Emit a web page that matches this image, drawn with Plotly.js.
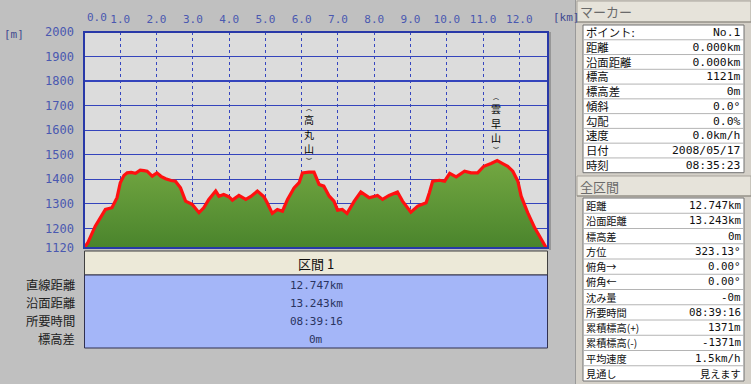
<!DOCTYPE html>
<html><head><meta charset="utf-8">
<script src="https://cdn.plot.ly/plotly-3.0.1.min.js"></script>
<style>html,body{margin:0;padding:0;background:#c0c0c0;}#chart{width:751px;height:384px;}</style>
</head><body><div id="chart"></div>
<script>
// ---- data ----
const distKm = [0.00,0.10,0.31,0.45,0.59,0.77,0.91,1.00,1.10,1.19,1.30,1.42,1.55,1.65,1.74,1.88,2.01,2.12,2.25,2.40,2.52,2.66,2.80,2.98,3.17,3.30,3.44,3.63,3.72,3.85,3.99,4.09,4.27,4.46,4.60,4.78,4.96,5.05,5.19,5.33,5.47,5.61,5.79,5.93,6.02,6.20,6.34,6.48,6.61,6.76,6.89,6.99,7.12,7.25,7.45,7.63,7.86,8.09,8.23,8.41,8.64,8.78,9.01,9.20,9.43,9.52,9.61,9.80,9.94,10.08,10.26,10.49,10.67,10.85,11.02,11.22,11.39,11.54,11.68,11.82,11.96,12.05,12.23,12.42,12.60,12.74];
const elevM  = [1121,1140,1209,1245,1277,1284,1325,1386,1415,1426,1428,1424,1437,1435,1433,1413,1426,1412,1402,1395,1392,1365,1311,1298,1264,1284,1318,1352,1331,1338,1329,1315,1334,1318,1330,1352,1329,1304,1261,1277,1270,1318,1365,1386,1426,1429,1429,1379,1372,1331,1311,1274,1277,1261,1311,1348,1325,1334,1318,1334,1348,1311,1266,1291,1304,1345,1392,1396,1392,1424,1410,1433,1426,1426,1453,1464,1476,1464,1453,1433,1392,1331,1264,1203,1155,1121];
const yTickVals = [1120,1200,1300,1400,1500,1600,1700,1800,1900,2000];
const xTickVals = [0,1,2,3,4,5,6,7,8,9,10,11,12];
const xTickLabels = ['0.0','1.0','2.0','3.0','4.0','5.0','6.0','7.0','8.0','9.0','10.0','11.0','12.0'];
const peakNames = ['高丸山','雲早山'];
const peakKm = [6.2, 11.37];
const sectionTitle = '区間 1';
const sectionLabels = ['直線距離','沿面距離','所要時間','標高差'];
const sectionValues = ['12.747km','13.243km','08:39:16','0m'];
const markerLabels = ['ポイント:','距離','沿面距離','標高','標高差','傾斜','勾配','速度','日付','時刻'];
const markerValues = ['No.1','0.000km','0.000km','1121m','0m','0.0°','0.0%','0.0km/h','2008/05/17','08:35:23'];
const totalLabels = ['距離','沿面距離','標高差','方位','俯角→','俯角←','沈み量','所要時間','累積標高(+)','累積標高(-)','平均速度','見通し'];
const totalValues = ['12.747km','13.243km','0m','323.13°','0.00°','0.00°','-0m','08:39:16','1371m','-1371m','1.5km/h','見えます'];

// ---- geometry helpers (pixels -> paper) ----
const L=84, R=548, T=32, B=248, W=R-L, H=B-T;
const px = x => (x-L)/W;
const py = y => (B-y)/H;
const JP = 'Noto Sans CJK JP', MONO = 'DejaVu Sans Mono';
const tickColor = '#4a58b0';
const LS = 1.3; // plotly line spacing factor

const shapes = [];
const ann = [];
function rect(x0,y0,x1,y1,fill,line,lw){
  shapes.push({type:'rect',xref:'paper',yref:'paper',x0:px(x0),x1:px(x1),y0:py(y1),y1:py(y0),
    fillcolor:fill,line:{color:line||fill,width:lw===undefined?1:lw},layer:'above'});
}
function hline(x0,x1,y,color,w){
  shapes.push({type:'line',xref:'paper',yref:'paper',x0:px(x0),x1:px(x1),y0:py(y),y1:py(y),line:{color:color,width:w||1},layer:'above'});
}
function vline(x,y0,y1,color,w){
  shapes.push({type:'line',xref:'paper',yref:'paper',x0:px(x),x1:px(x),y0:py(y0),y1:py(y1),line:{color:color,width:w||1},layer:'above'});
}
function text(x,y,t,anchor,font,size,color,align){
  ann.push({xref:'paper',yref:'paper',x:px(x),y:py(y),text:t,showarrow:false,xanchor:anchor,yanchor:'middle',
    align:align||anchor,font:{family:font,size:size,color:color},borderpad:0});
}
const isJPText = v => /[\u3040-\u30ff\u4e00-\u9fff]/.test(v);

// plot frame
rect(L,T,R,B,'rgba(0,0,0,0)','#2838a8',2);
vline(R+2,T,B+2,'#8a8a8a',1.5);

// axis unit labels and 0.0 label
text(3,34,'[m]','left',MONO,11,'#404a90');
text(552,17,'[km]','left',MONO,11,'#404a90');
text(97,17,xTickLabels[0],'center',MONO,11,tickColor);

// peak labels (vertical text, one glyph per annotation)
const peakMid = [134,123];
const chStep = 14.6, chSize = 10, brSize = 6, brBox = 9;
peakNames.forEach((n,i)=>{
  const chars = n.split('');
  const top = peakMid[i] - chars.length*chStep/2;
  chars.forEach((c,j)=>{
    ann.push({xref:'x',yref:'paper',x:peakKm[i],y:py(top + chStep*(j+0.5)),text:c,showarrow:false,xanchor:'center',yanchor:'middle',
      font:{family:JP,size:chSize,color:'#000'},borderpad:0});
  });
  ann.push({xref:'x',yref:'paper',x:peakKm[i],y:py(top - brBox/2 - 0.3),text:'︵',showarrow:false,xanchor:'center',yanchor:'middle',
    font:{family:JP,size:brSize,color:'#000'},borderpad:0});
  ann.push({xref:'x',yref:'paper',x:peakKm[i],y:py(top + chars.length*chStep + brBox/2 + 0.3),text:'︶',showarrow:false,xanchor:'center',yanchor:'middle',
    font:{family:JP,size:brSize,color:'#000'},borderpad:0});
});

// section bar below plot
rect(84.5,251,547.5,275,'#ece9d8','#404040',1);
text(316,263,sectionTitle,'center',JP,13,'#101010');
rect(84.5,275,547.5,348,'#a4b6f8','#303050',1);
const secRow = 18, secTop = 276;
sectionLabels.forEach((l,i)=>{
  const y = secTop + secRow*(i+0.5);
  text(76, y, l, 'right', JP, 12.3, '#202020');
  text(316, y, sectionValues[i], 'center', MONO, 11, '#2a3460');
});

// sidebar
rect(576,0,751,384,'#d4d0c8','#d4d0c8',0);
vline(575.5,0,384,'#9a9a9a',1);
function header(y0,y1,t){
  rect(577,y0,751,y1,'#e6e3da','#a8a49c',1);
  hline(577,751,y1,'#8c8880',1.2);
  text(579,(y0+y1)/2,t,'left',JP,13,'#6a6a6a');
}
function tableFrame(y0,y1,n){
  const rh=(y1-y0)/n;
  rect(583,y0,744,y1,'#ffffff','#707070',1);
  for(let i=1;i<n;i++) hline(583,744,y0+i*rh,'#b4b4b4',1);
  return rh;
}
// marker table: one multi-line block per column
(function(){
  const y0=25, y1=172.7, n=markerLabels.length, rh=tableFrame(y0,y1,n), fs=rh/LS;
  text(585,(y0+y1)/2,markerLabels.join('<br>'),'left',JP,fs,'#101010');
  text(742,(y0+y1)/2,markerValues.join('<br>'),'right',MONO,fs,'#101010');
})();
// total table: one annotation per cell
(function(){
  const y0=198, y1=381, n=totalLabels.length, rh=tableFrame(y0,y1,n);
  totalLabels.forEach((l,i)=>{
    const y=y0+rh*(i+0.5);
    text(585,y,l,'left',JP,10.2,'#101010');
    const v=totalValues[i];
    text(742,y,v,'right',isJPText(v)?JP:MONO,isJPText(v)?10.2:10.8,'#101010');
  });
})();
header(1,22,'マーカー');
header(176,196,'全区間');

const baseline = {x:distKm,y:distKm.map(()=>yTickVals[0]),mode:'lines',line:{width:0,color:'rgba(0,0,0,0)'},hoverinfo:'skip',showlegend:false};
const profile = {x:distKm,y:elevM,mode:'lines',fill:'tonexty',
  fillgradient:{type:'vertical',start:1120,stop:1480,colorscale:[[0,'#4a842c'],[1,'#74a842']]},
  line:{color:'#ff1010',width:3.2},showlegend:false};

const layout = {
  width:751,height:384,
  paper_bgcolor:'#c0c0c0',plot_bgcolor:'#dcdcdc',
  margin:{l:L,r:751-R,t:T,b:384-B,pad:0},
  showlegend:false,
  xaxis:{range:[0,12.79],side:'top',tickmode:'array',tickvals:xTickVals,ticktext:['',...xTickLabels.slice(1)],
    showgrid:true,gridcolor:'#3646c0',griddash:'dot',gridwidth:1,zeroline:false,showline:false,ticks:'',
    tickfont:{family:MONO,size:11,color:tickColor},ticklabelstandoff:6,fixedrange:true},
  yaxis:{range:[1120,2000],tickmode:'array',tickvals:yTickVals,ticktext:yTickVals.map(String),
    showgrid:true,gridcolor:'#3444bc',gridwidth:1.3,zeroline:false,showline:false,ticks:'',
    tickfont:{family:MONO,size:12,color:tickColor},ticklabelstandoff:9,fixedrange:true},
  shapes:shapes,annotations:ann
};
Plotly.newPlot('chart',[baseline,profile],layout,{staticPlot:true,displayModeBar:false});
</script></body></html>
